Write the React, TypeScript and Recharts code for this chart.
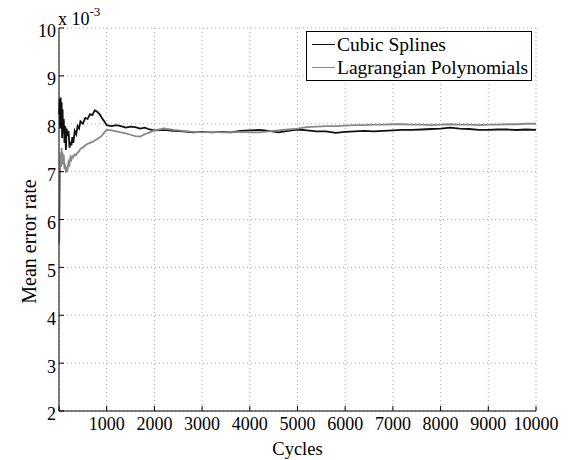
import React from 'react';
import { LineChart, Line, XAxis, YAxis, CartesianGrid, Legend } from 'recharts';

// cycle positions where the curves were sampled
const cycles = [
  5, 15, 25, 35, 45, 55, 65, 75, 85,
  100, 115, 130, 145, 160,
  180, 200, 220, 240, 260, 280, 300,
  330, 360, 390, 420, 450,
  500, 550, 600, 650, 700, 750, 800, 850, 900, 950, 1000,
  1100, 1200, 1300, 1400, 1500, 1600, 1700, 1800, 1900, 2000,
  2200, 2400, 2600, 2800, 3000, 3200, 3400, 3600, 3800, 4000,
  4200, 4400, 4600, 4800, 5000, 5200, 5400, 5600, 5800, 6000,
  6200, 6400, 6600, 6800, 7000, 7200, 7400, 7600, 7800, 8000,
  8200, 8400, 8600, 8800, 9000, 9200, 9400, 9600, 9800, 10000,
];

// mean error rate, x 10^-3
const cubicSplines = [
  8.2, 8.52, 7.9, 8.55, 8.0, 8.45, 7.7, 8.3, 7.8,
  8.1, 7.6, 7.95, 7.45, 7.9,
  7.75, 7.85, 7.5, 7.62, 7.55, 7.72, 7.6,
  7.85, 7.78, 7.95, 7.9, 8.05,
  8.0, 8.12, 8.1, 8.2, 8.18, 8.28, 8.25, 8.2, 8.12, 8.05, 7.97,
  7.95, 7.97, 7.95, 7.92, 7.94, 7.93, 7.9, 7.92, 7.88, 7.86,
  7.87, 7.85, 7.84, 7.82, 7.83, 7.82, 7.83, 7.82, 7.85, 7.86,
  7.87, 7.85, 7.82, 7.85, 7.88, 7.86, 7.84, 7.84, 7.81, 7.83,
  7.84, 7.85, 7.84, 7.85, 7.86, 7.87, 7.87, 7.88, 7.89, 7.9,
  7.92, 7.9, 7.89, 7.87, 7.87, 7.88, 7.88, 7.87, 7.88, 7.87,
];

const lagrangian = [
  5.5, 6.4, 7.05, 7.4, 7.1, 7.5, 7.25, 7.4, 7.15,
  7.35, 7.05, 7.15, 6.98, 7.1,
  7.05, 7.2, 7.15, 7.3, 7.25, 7.32, 7.3,
  7.36, 7.35, 7.4, 7.42, 7.48,
  7.5, 7.55, 7.58, 7.6, 7.62, 7.65, 7.68, 7.71, 7.75, 7.82, 7.87,
  7.86, 7.84, 7.82, 7.8, 7.77, 7.74, 7.73, 7.78, 7.82, 7.86,
  7.9, 7.87, 7.85, 7.83, 7.82, 7.83, 7.82, 7.82, 7.83, 7.82,
  7.82, 7.84, 7.86, 7.88, 7.9, 7.93, 7.94, 7.95, 7.95, 7.96,
  7.97, 7.97, 7.98, 7.98, 7.99, 7.99, 7.98, 7.98, 7.97, 7.98,
  7.99, 7.98, 7.98, 7.97, 7.98, 7.98, 7.99, 7.99, 8.0, 8.0,
];

const xTicks = [0, 1000, 2000, 3000, 4000, 5000, 6000, 7000, 8000, 9000, 10000];
const yTicks = [2, 3, 4, 5, 6, 7, 8, 9, 10];

const series = [
  { key: 'cubic', name: 'Cubic Splines', color: '#111111' },
  { key: 'lagrange', name: 'Lagrangian Polynomials', color: '#888888' },
];

const data = cycles.map((c, i) => ({ cycle: c, cubic: cubicSplines[i], lagrange: lagrangian[i] }));

const FONT = '"Liberation Serif", "Times New Roman", serif';
const tickStyle = { fill: '#000', fontSize: 18, fontFamily: FONT };

function LegendBox() {
  return (
    <div style={{ border: '1px solid #000', background: '#fff', padding: '1px 0', fontFamily: FONT, fontSize: 19.5 }}>
      {series.map((s) => (
        <div key={s.key} style={{ display: 'flex', alignItems: 'center', height: 23, paddingLeft: 5 }}>
          <span style={{ width: 23, height: 0, borderTop: `1.5px solid ${s.color}`, marginRight: 2 }} />
          <span style={{ color: '#000', whiteSpace: 'nowrap' }}>{s.name}</span>
        </div>
      ))}
    </div>
  );
}

function YLabel(props: any) {
  const vb = props.viewBox || { x: 0, y: 0, height: 0 };
  const x = vb.x + 29;
  const y = vb.y + vb.height / 2 + 22;
  return (
    <g>
      <text x={x} y={y} transform={`rotate(-90, ${x}, ${y})`} textAnchor="middle" dominantBaseline="central"
        style={{ fontFamily: FONT, fontSize: 20, fill: '#000' }}>
        Mean error rate
      </text>
      {/* exponent written by matlab above the axis */}
      <text x={vb.x + 58} y={vb.y - 3} style={{ fontFamily: FONT, fontSize: 18, fill: '#000' }}>
        x 10<tspan dy={-9} fontSize={13}>-3</tspan>
      </text>
    </g>
  );
}

export default function App() {
  return (
    <div style={{ position: 'absolute', left: 0, top: 0, width: 582, height: 460, background: '#fff' }}>
      <LineChart width={582} height={460} data={data} margin={{ top: 28, right: 46, left: 0, bottom: 0 }}>
        <CartesianGrid xAxisId="bottom" yAxisId="left" stroke="#a8a8a8" strokeDasharray="1 3" />
        <XAxis xAxisId="bottom" dataKey="cycle" type="number" domain={[0, 10000]} ticks={xTicks} height={49}
          tick={tickStyle} tickSize={-5} tickMargin={11} stroke="#000" interval={0}
          tickFormatter={(v: number) => (v === 0 ? '' : String(v))}
          label={{ value: 'Cycles', position: 'insideBottom', offset: 5, style: { fontFamily: FONT, fontSize: 18.5, fill: '#000' } }} />
        <XAxis xAxisId="top" orientation="top" dataKey="cycle" type="number" domain={[0, 10000]} ticks={xTicks}
          height={0} tickSize={-5} stroke="#000" tick={false} />
        <YAxis yAxisId="left" type="number" domain={[2, 10]} ticks={yTicks} width={59} interval={0}
          tick={{ ...tickStyle, dy: 3 }} tickSize={-5} tickMargin={8} stroke="#000" label={<YLabel />} />
        <YAxis yAxisId="right" orientation="right" type="number" domain={[2, 10]} ticks={yTicks} width={0}
          tickSize={-5} stroke="#000" tick={false} />
        {series.map((s) => (
          <Line key={s.key} xAxisId="bottom" yAxisId="left" type="linear" dataKey={s.key} name={s.name}
            stroke={s.color} strokeWidth={1.8} dot={false} isAnimationActive={false} />
        ))}
        <Legend layout="vertical" align="center" verticalAlign="middle" content={<LegendBox />}
          wrapperStyle={{ position: 'absolute', left: 306, top: 31, width: 226, height: 'auto' }} />
      </LineChart>
    </div>
  );
}
